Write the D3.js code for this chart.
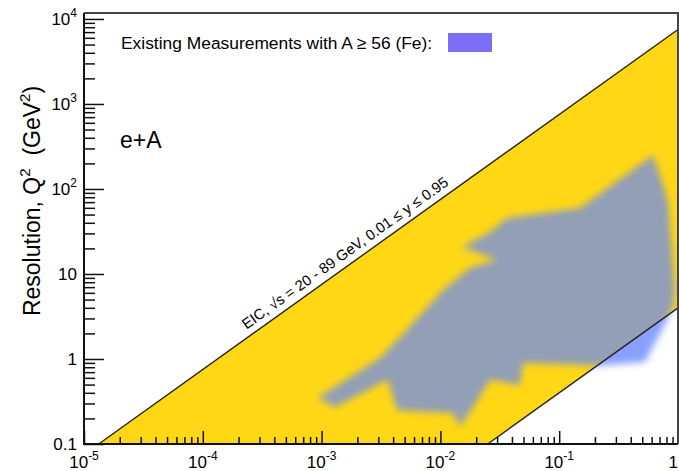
<!DOCTYPE html>
<html>
<head>
<meta charset="utf-8">
<script src="https://cdn.jsdelivr.net/npm/d3@7"></script>
<style>
body { margin: 0; background: #fff; }
text { font-family: "Liberation Sans", Arial, Helvetica, sans-serif; fill: #000; }
</style>
</head>
<body>
<svg id="drawing_region"></svg>
<script>
// tick labels ("^" starts a superscript)
var xTicks = [1e-5, 1e-4, 1e-3, 1e-2, 1e-1, 1];
var xTickText = ["10^-5", "10^-4", "10^-3", "10^-2", "10^-1", "1"];
var yTicks = [0.1, 1, 10, 100, 1000, 10000];
var yTickText = ["0.1", "1", "10", "10^2", "10^3", "10^4"];

// EIC kinematic limits, [x, Q2] end points
var upperLimit = [[1.33e-5, 0.1], [1, 7525]];
var lowerLimit = [[0.025, 0.1], [1, 4]];

// outline of existing measurements with A >= 56, [x, Q2]
var measured = [
    [9.3e-4, 0.35], [3.1e-3, 1.03], [5.2e-3, 2.2], [0.0105, 6.5], [0.0177, 11.8],
    [0.030, 14.6], [0.0152, 20.8], [0.0262, 31.2], [0.0364, 45.6], [0.150, 59.7],
    [0.617, 251], [0.824, 74], [0.944, 6.5], [0.908, 4.1], [0.733, 2.2],
    [0.527, 0.92], [0.220, 0.83], [0.0496, 0.90], [0.0468, 0.49], [0.0262, 0.57],
    [0.0188, 0.27], [0.0146, 0.16], [0.0128, 0.23], [4.3e-3, 0.25], [3.6e-3, 0.57],
    [1.3e-3, 0.27]
];

var width = 679;
var height = 471;
var margin = {top:13, right:1, bottom:27, left:84};

var svg = d3.select('#drawing_region')
    .attr('width', width)
    .attr('height', height);

const inner_width = width - margin.left - margin.right;
const inner_height = height - margin.top - margin.bottom;

var chart = svg.append('g')
    .attr('transform', `translate(${margin.left}, ${margin.top})`);

const xscale = d3.scaleLog()
      .domain([1e-5, 1])
      .range([0, inner_width]);

const yscale = d3.scaleLog()
      .domain([0.1, 11750])
      .range([inner_height, 0]);

const line = d3.line()
      .x( d => xscale(d[0]) )
      .y( d => yscale(d[1]) );

const closed = d3.line()
      .x( d => xscale(d[0]) )
      .y( d => yscale(d[1]) )
      .curve(d3.curveLinearClosed);

var band = upperLimit.concat(lowerLimit.slice().reverse());
var below = lowerLimit.concat([[1, 0.1]]);

var defs = svg.append('defs');
defs.append('clipPath').attr('id', 'bandClip')
    .append('path').attr('d', closed(band));
defs.append('clipPath').attr('id', 'belowClip')
    .append('path').attr('d', closed(below));
defs.append('filter').attr('id', 'soft')
    .attr('x', '-20%').attr('y', '-20%')
    .attr('width', '140%').attr('height', '140%')
    .append('feGaussianBlur').attr('stdDeviation', 3.8);

// yellow EIC band
chart.append('path')
    .attr('d', closed(band))
    .attr('fill', '#ffd715');

// measurements: grey over the band, blue outside of it
chart.append('g')
    .attr('clip-path', 'url(#bandClip)')
    .append('path')
    .attr('d', closed(measured))
    .attr('fill', '#929fb6')
    .attr('filter', 'url(#soft)');

chart.append('g')
    .attr('clip-path', 'url(#belowClip)')
    .append('path')
    .attr('d', closed(measured))
    .attr('fill', '#89a0ff')
    .attr('filter', 'url(#soft)');

// limit lines
[upperLimit, lowerLimit].forEach(function(l) {
    chart.append('path')
        .attr('d', line(l))
        .attr('stroke', '#222')
        .attr('stroke-width', 1.4)
        .attr('fill', 'none');
});

// label along the upper line
var p0 = [xscale(upperLimit[0][0]), yscale(upperLimit[0][1])];
var p1 = [xscale(upperLimit[1][0]), yscale(upperLimit[1][1])];
var angle = Math.atan2(p1[1] - p0[1], p1[0] - p0[0]) * 180 / Math.PI;
var t = 0.262;
chart.append('text')
    .attr('transform', `translate(${p0[0] + t * (p1[0] - p0[0])}, ${p0[1] + t * (p1[1] - p0[1])}) rotate(${angle})`)
    .attr('dy', -7)
    .attr('font-size', 14.8)
    .text('EIC, \u221As = 20 - 89 GeV, 0.01 \u2264 y \u2264 0.95');

// axes ticks
var xAll = xscale.ticks();
var yAll = yscale.ticks();
var isMajor = v => Math.abs(Math.log10(v) - Math.round(Math.log10(v))) < 1e-6;

chart.append('g')
    .attr('transform', `translate(0, ${inner_height})`)
    .call(d3.axisTop(xscale).tickValues(xAll.filter(v => !isMajor(v))).tickSize(7).tickFormat(''))
    .call(g => g.select('.domain').remove());
chart.append('g')
    .attr('transform', `translate(0, ${inner_height})`)
    .call(d3.axisTop(xscale).tickValues(xTicks).tickSize(13).tickFormat(''))
    .call(g => g.select('.domain').remove());
chart.append('g')
    .call(d3.axisRight(yscale).tickValues(yAll.filter(v => !isMajor(v))).tickSize(11).tickFormat(''))
    .call(g => g.select('.domain').remove());
chart.append('g')
    .call(d3.axisRight(yscale).tickValues(yTicks).tickSize(20).tickFormat(''))
    .call(g => g.select('.domain').remove());
chart.selectAll('.tick line').attr('stroke', '#111').attr('stroke-width', 1.5);

// frame
chart.append('path')
    .attr('d', `M0,0H${inner_width}V${inner_height}`)
    .attr('stroke', '#444').attr('stroke-width', 2).attr('fill', 'none');
chart.append('path')
    .attr('d', `M0,0V${inner_height}H${inner_width}`)
    .attr('stroke', '#111').attr('stroke-width', 2).attr('fill', 'none');

function tickLabel(sel, s) {
    var parts = s.split('^');
    sel.append('tspan').text(parts[0]);
    if (parts.length > 1) {
        sel.append('tspan').attr('font-size', 12).attr('dy', -8).text(parts[1]);
    }
}

xTicks.forEach(function(v, i) {
    var last = i === xTicks.length - 1;
    chart.append('text')
        .attr('x', last ? inner_width : xscale(v))
        .attr('y', inner_height + 24)
        .attr('text-anchor', last ? 'end' : 'middle')
        .attr('font-size', 17)
        .call(tickLabel, xTickText[i]);
});

yTicks.forEach(function(v, i) {
    chart.append('text')
        .attr('x', -7)
        .attr('y', yscale(v) + 6)
        .attr('text-anchor', 'end')
        .attr('font-size', 17)
        .call(tickLabel, yTickText[i]);
});

// y axis title
var ytitle = svg.append('text')
    .attr('transform', 'translate(40, 201) rotate(-90)')
    .attr('text-anchor', 'middle')
    .attr('font-size', 23);
ytitle.append('tspan').text('Resolution, Q');
ytitle.append('tspan').attr('font-size', 15).attr('dy', -10).text('2');
ytitle.append('tspan').attr('dy', 10).text('\u00a0 (GeV');
ytitle.append('tspan').attr('font-size', 15).attr('dy', -10).text('2');
ytitle.append('tspan').attr('dy', 10).text(')');

// legend and labels
svg.append('text')
    .attr('x', 121).attr('y', 49)
    .attr('font-size', 17.4)
    .text('Existing Measurements with A \u2265 56 (Fe):');
svg.append('rect')
    .attr('x', 448).attr('y', 33)
    .attr('width', 44).attr('height', 19)
    .attr('fill', '#7b6ff8');

svg.append('text')
    .attr('x', 120).attr('y', 148)
    .attr('font-size', 23)
    .text('e+A');
</script>
</body>
</html>
